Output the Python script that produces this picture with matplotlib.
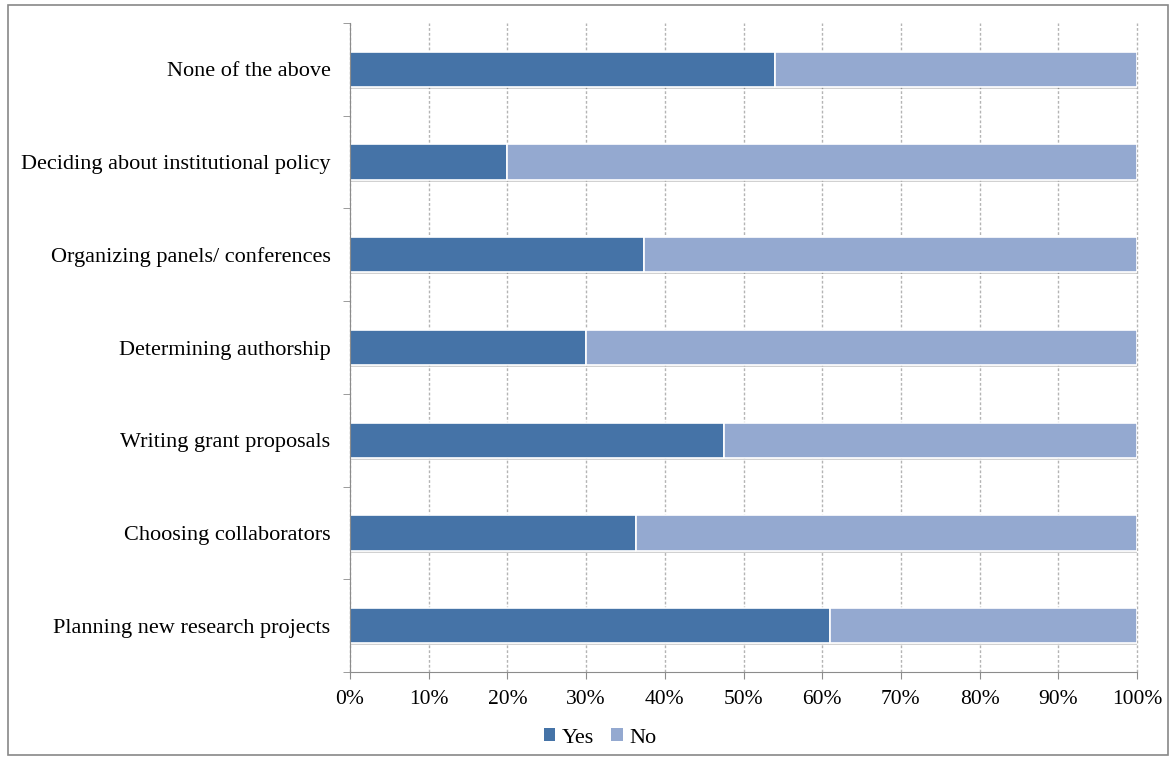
import numpy as np
import matplotlib.pyplot as plt
import matplotlib.patheffects as pe
from matplotlib.patches import Rectangle

categories = [
    "Planning new research projects",
    "Choosing collaborators",
    "Writing grant proposals",
    "Determining authorship",
    "Organizing panels/ conferences",
    "Deciding about institutional policy",
    "None of the above",
]
yes_share = [0.61, 0.364, 0.475, 0.30, 0.373, 0.20, 0.54]
no_share = [1 - v for v in yes_share]
tick_labels = ["0%", "10%", "20%", "30%", "40%", "50%", "60%", "70%", "80%", "90%", "100%"]

yes_color = "#4573A7"
no_color = "#94A9D0"
axis_gray = "#8C8C8C"

plt.rcParams["font.family"] = ["Liberation Serif", "DejaVu Serif"]

fig = plt.figure(figsize=(11.73, 7.59), dpi=100)
ax = fig.add_axes([350 / 1173, 1 - 672 / 759, 787 / 1173, (672 - 23) / 759])

y = np.arange(len(categories))
shadow = [pe.SimplePatchShadow(offset=(0, -1.5), shadow_rgbFace="#000000", alpha=0.18), pe.Normal()]
b1 = ax.barh(y, yes_share, height=0.38, color=yes_color, edgecolor="white", linewidth=1.2,
             label="Yes", zorder=3)
b2 = ax.barh(y, no_share, left=yes_share, height=0.38, color=no_color, edgecolor="white",
             linewidth=1.2, label="No", zorder=3)
for bar in list(b1) + list(b2):
    bar.set_path_effects(shadow)

ax.set_xlim(0, 1)
ax.set_ylim(-0.5, len(categories) - 0.5)
ax.set_xticks(np.linspace(0, 1, 11))
ax.set_xticklabels(tick_labels, fontsize=15.5)
ax.set_yticks(y)
ax.set_yticklabels(categories, fontsize=16)
ax.tick_params(axis="y", length=0, pad=14)
ax.set_yticks(np.arange(-0.5, len(categories), 1), minor=True)
ax.tick_params(axis="y", which="minor", length=5, color=axis_gray)
ax.tick_params(axis="x", length=5, color=axis_gray, pad=8)

ax.grid(axis="x", linestyle=(0, (2, 1.5)), color="#B4B4B4", linewidth=1.0, zorder=0)
for line in ax.get_xgridlines():
    line.set_clip_on(False)
for side in ["top", "right"]:
    ax.spines[side].set_visible(False)
for side in ["left", "bottom"]:
    ax.spines[side].set_color(axis_gray)
    ax.spines[side].set_zorder(5)

# legend sits under the middle of the whole figure, not the axes
leg = fig.legend(handles=[b1, b2], labels=["Yes", "No"], loc="center",
                 bbox_to_anchor=(600 / 1173, 1 - 738 / 759), ncol=2, frameon=False,
                 fontsize=16, handlelength=0.5, handleheight=0.5, handletextpad=0.3,
                 columnspacing=0.8)
for handle in leg.legend_handles:
    handle.set_path_effects([])
    handle.set_edgecolor("none")

fig.patches.append(Rectangle((8 / 1173, 4 / 759), 1160 / 1173, 750 / 759,
                             transform=fig.transFigure, fill=False, edgecolor="#888888", linewidth=1.2))

fig.savefig("out.png", dpi=100)
